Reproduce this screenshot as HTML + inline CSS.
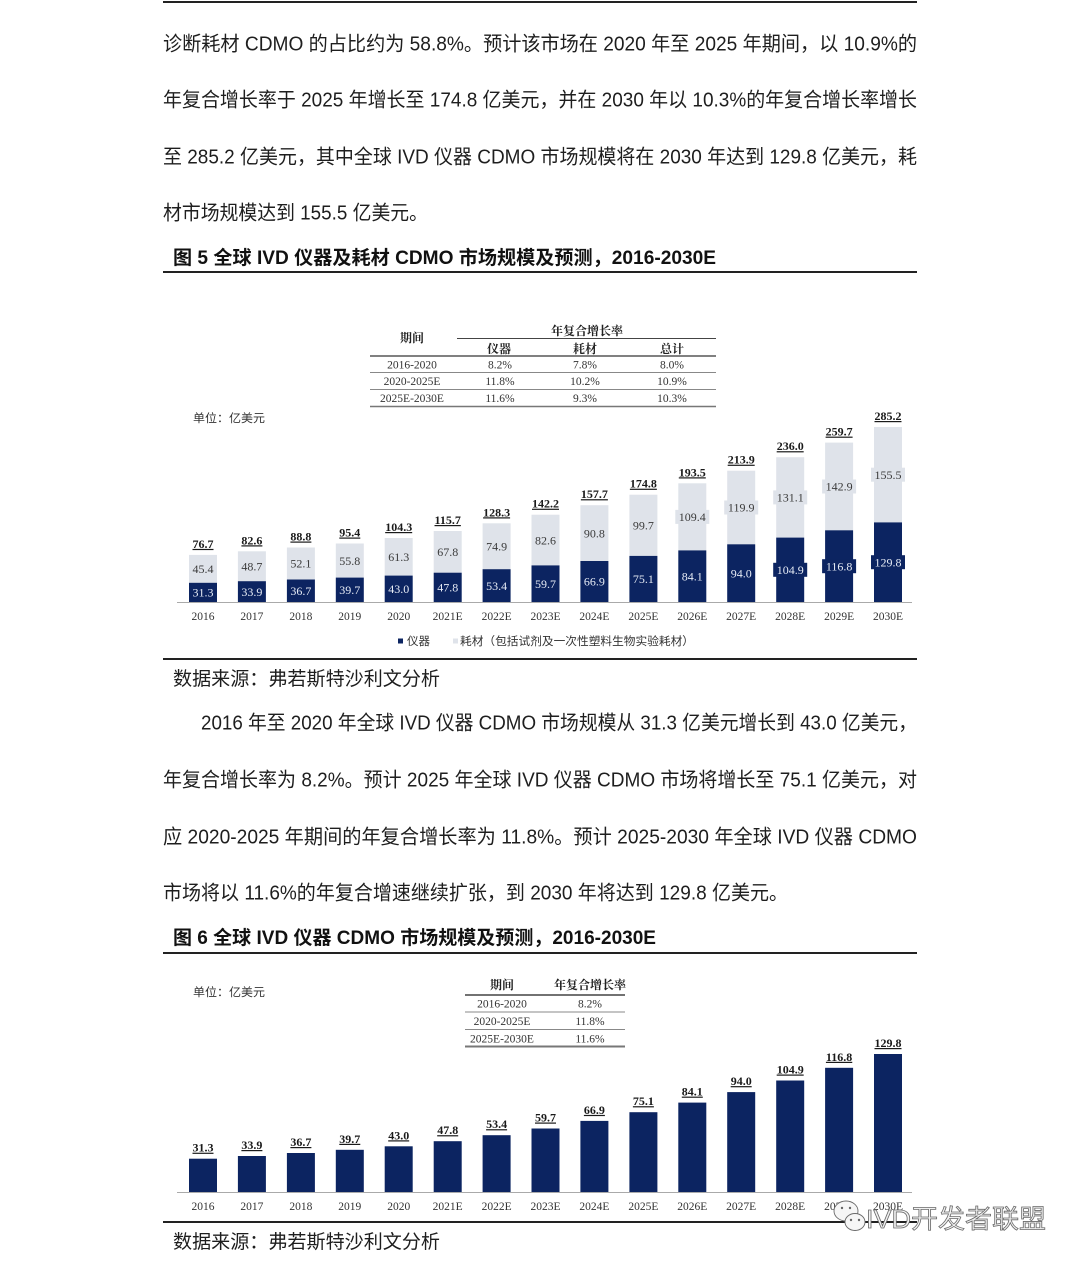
<!DOCTYPE html>
<html>
<head>
<meta charset="utf-8">
<style>
html,body{margin:0;padding:0;background:#fff;}
svg{display:block;}
.b{font-family:"Liberation Sans","Noto Sans CJK SC",sans-serif;font-size:20px;fill:#1e1e1e;}
.t{font-family:"Liberation Sans","Noto Sans CJK SC",sans-serif;font-size:19px;font-weight:bold;fill:#111;}
.s{font-family:"Liberation Sans","Noto Sans CJK SC",sans-serif;font-size:19px;fill:#1e1e1e;}
.sm{font-family:"Liberation Sans","Noto Sans CJK SC",sans-serif;font-size:11.5px;fill:#333;}
.sr{font-family:"Liberation Serif","Noto Serif CJK SC",serif;font-size:11.5px;fill:#333;text-anchor:middle;}
.hd{font-family:"Liberation Serif","Noto Serif CJK SC",serif;font-size:12px;font-weight:bold;fill:#222;text-anchor:middle;}
.xl{font-family:"Liberation Serif","Noto Serif CJK SC",serif;font-size:11.5px;fill:#333;text-anchor:middle;}
.tot{font-family:"Liberation Serif","Noto Serif CJK SC",serif;font-size:12px;font-weight:bold;fill:#1a1a1a;text-anchor:middle;text-decoration:underline;}
.ll{font-family:"Liberation Serif","Noto Serif CJK SC",serif;font-size:12px;fill:#3a3a3a;text-anchor:middle;}
.dl{font-family:"Liberation Serif","Noto Serif CJK SC",serif;font-size:12px;fill:#e6ebf5;text-anchor:middle;}
.wm{font-family:"Liberation Sans","Noto Sans CJK SC",sans-serif;font-size:26px;fill:#f2f2f2;stroke:#6a6a6a;stroke-width:0.8;}
</style>
</head>
<body>
<svg width="1080" height="1268" viewBox="0 0 1080 1268" xmlns="http://www.w3.org/2000/svg">
<rect x="0" y="0" width="1080" height="1268" fill="#fff"/>
<rect x="163" y="1" width="754" height="2" fill="#222"/>

<!-- paragraph 1 -->
<text class="b" x="163" y="50.5" textLength="754" lengthAdjust="spacingAndGlyphs">诊断耗材 CDMO 的占比约为 58.8%。预计该市场在 2020 年至 2025 年期间，以 10.9%的</text>
<text class="b" x="163" y="106.5" textLength="754" lengthAdjust="spacingAndGlyphs">年复合增长率于 2025 年增长至 174.8 亿美元，并在 2030 年以 10.3%的年复合增长率增长</text>
<text class="b" x="163" y="163.5" textLength="754" lengthAdjust="spacingAndGlyphs">至 285.2 亿美元，其中全球 IVD 仪器 CDMO 市场规模将在 2030 年达到 129.8 亿美元，耗</text>
<text class="b" x="163" y="219.5" textLength="265" lengthAdjust="spacingAndGlyphs">材市场规模达到 155.5 亿美元。</text>

<!-- title 1 -->
<text class="t" x="173" y="264" textLength="543" lengthAdjust="spacingAndGlyphs">图 5 全球 IVD 仪器及耗材 CDMO 市场规模及预测，2016-2030E</text>
<rect x="163" y="271" width="754" height="2" fill="#222"/>

<!-- table 1 -->
<text class="hd" x="587" y="335">年复合增长率</text>
<text class="hd" x="412" y="342">期间</text>
<line x1="457" y1="338.5" x2="716" y2="338.5" stroke="#444" stroke-width="1"/>
<text class="hd" x="499" y="353">仪器</text>
<text class="hd" x="585" y="353">耗材</text>
<text class="hd" x="672" y="353">总计</text>
<line x1="370" y1="356" x2="716" y2="356" stroke="#808080" stroke-width="2"/>
<text class="sr" x="412" y="368.5">2016-2020</text>
<text class="sr" x="500" y="368.5">8.2%</text>
<text class="sr" x="585" y="368.5">7.8%</text>
<text class="sr" x="672" y="368.5">8.0%</text>
<line x1="370" y1="372.5" x2="716" y2="372.5" stroke="#888" stroke-width="1"/>
<text class="sr" x="412" y="385">2020-2025E</text>
<text class="sr" x="500" y="385">11.8%</text>
<text class="sr" x="585" y="385">10.2%</text>
<text class="sr" x="672" y="385">10.9%</text>
<line x1="370" y1="389.5" x2="716" y2="389.5" stroke="#888" stroke-width="1"/>
<text class="sr" x="412" y="402">2025E-2030E</text>
<text class="sr" x="500" y="402">11.6%</text>
<text class="sr" x="585" y="402">9.3%</text>
<text class="sr" x="672" y="402">10.3%</text>
<line x1="370" y1="406.5" x2="716" y2="406.5" stroke="#777" stroke-width="1.5"/>

<text class="sm" x="193" y="422" textLength="72" lengthAdjust="spacingAndGlyphs">单位：亿美元</text>

<!-- chart 1 bars -->
<g fill="#dfe3ea">
<rect x="189.0" y="554.9" width="28" height="27.9"/>
<rect x="237.9" y="551.3" width="28" height="29.9"/>
<rect x="286.9" y="547.5" width="28" height="32.0"/>
<rect x="335.8" y="543.5" width="28" height="34.1"/>
<rect x="384.7" y="538.0" width="28" height="37.6"/>
<rect x="433.7" y="531.0" width="28" height="41.7"/>
<rect x="482.6" y="523.3" width="28" height="45.9"/>
<rect x="531.5" y="514.7" width="28" height="50.7"/>
<rect x="580.4" y="505.2" width="28" height="55.8"/>
<rect x="629.4" y="494.7" width="28" height="61.2"/>
<rect x="678.3" y="483.3" width="28" height="67.1"/>
<rect x="727.2" y="470.7" width="28" height="73.6"/>
<rect x="776.2" y="457.2" width="28" height="80.4"/>
<rect x="825.1" y="442.6" width="28" height="87.7"/>
<rect x="874.0" y="427.0" width="28" height="95.4"/>
<rect x="675.3" y="509.9" width="34" height="14"/>
<rect x="724.2" y="500.5" width="34" height="14"/>
<rect x="773.2" y="490.4" width="34" height="14"/>
<rect x="822.1" y="479.5" width="34" height="14"/>
<rect x="871.0" y="467.7" width="34" height="14"/>
</g>
<g fill="#0c2461">
<rect x="189.0" y="582.8" width="28" height="19.2"/>
<rect x="237.9" y="581.2" width="28" height="20.8"/>
<rect x="286.9" y="579.5" width="28" height="22.5"/>
<rect x="335.8" y="577.6" width="28" height="24.4"/>
<rect x="384.7" y="575.6" width="28" height="26.4"/>
<rect x="433.7" y="572.7" width="28" height="29.3"/>
<rect x="482.6" y="569.2" width="28" height="32.8"/>
<rect x="531.5" y="565.4" width="28" height="36.6"/>
<rect x="580.4" y="561.0" width="28" height="41.0"/>
<rect x="629.4" y="555.9" width="28" height="46.1"/>
<rect x="678.3" y="550.4" width="28" height="51.6"/>
<rect x="727.2" y="544.3" width="28" height="57.7"/>
<rect x="776.2" y="537.6" width="28" height="64.4"/>
<rect x="825.1" y="530.3" width="28" height="71.7"/>
<rect x="874.0" y="522.4" width="28" height="79.6"/>
<rect x="773.2" y="562.8" width="34" height="14"/>
<rect x="822.1" y="559.2" width="34" height="14"/>
<rect x="871.0" y="555.2" width="34" height="14"/>
</g>
<line x1="177" y1="602.5" x2="912" y2="602.5" stroke="#aaa" stroke-width="1"/>

<!-- light labels -->
<text class="ll" x="203.0" y="573.1">45.4</text>
<text class="ll" x="251.9" y="570.5">48.7</text>
<text class="ll" x="300.9" y="567.7">52.1</text>
<text class="ll" x="349.8" y="564.8">55.8</text>
<text class="ll" x="398.7" y="561.0">61.3</text>
<text class="ll" x="447.7" y="556.1">67.8</text>
<text class="ll" x="496.6" y="550.5">74.9</text>
<text class="ll" x="545.5" y="544.3">82.6</text>
<text class="ll" x="594.4" y="537.3">90.8</text>
<text class="ll" x="643.4" y="529.5">99.7</text>
<text class="ll" x="692.3" y="521.1">109.4</text>
<text class="ll" x="741.2" y="511.7">119.9</text>
<text class="ll" x="790.2" y="501.6">131.1</text>
<text class="ll" x="839.1" y="490.7">142.9</text>
<text class="ll" x="888.0" y="478.9">155.5</text>
<!-- dark labels -->
<text class="dl" x="203.0" y="596.6">31.3</text>
<text class="dl" x="251.9" y="595.8">33.9</text>
<text class="dl" x="300.9" y="595.0">36.7</text>
<text class="dl" x="349.8" y="594.0">39.7</text>
<text class="dl" x="398.7" y="593.0">43.0</text>
<text class="dl" x="447.7" y="591.6">47.8</text>
<text class="dl" x="496.6" y="589.8">53.4</text>
<text class="dl" x="545.5" y="587.9">59.7</text>
<text class="dl" x="594.4" y="585.7">66.9</text>
<text class="dl" x="643.4" y="583.2">75.1</text>
<text class="dl" x="692.3" y="580.4">84.1</text>
<text class="dl" x="741.2" y="577.4">94.0</text>
<text class="dl" x="790.2" y="574.0">104.9</text>
<text class="dl" x="839.1" y="570.4">116.8</text>
<text class="dl" x="888.0" y="566.4">129.8</text>
<!-- totals -->
<text class="tot" x="203.0" y="547.9">76.7</text>
<text class="tot" x="251.9" y="544.3">82.6</text>
<text class="tot" x="300.9" y="540.5">88.8</text>
<text class="tot" x="349.8" y="536.5">95.4</text>
<text class="tot" x="398.7" y="531.0">104.3</text>
<text class="tot" x="447.7" y="524.0">115.7</text>
<text class="tot" x="496.6" y="516.3">128.3</text>
<text class="tot" x="545.5" y="507.7">142.2</text>
<text class="tot" x="594.4" y="498.2">157.7</text>
<text class="tot" x="643.4" y="487.7">174.8</text>
<text class="tot" x="692.3" y="476.3">193.5</text>
<text class="tot" x="741.2" y="463.7">213.9</text>
<text class="tot" x="790.2" y="450.2">236.0</text>
<text class="tot" x="839.1" y="435.6">259.7</text>
<text class="tot" x="888.0" y="420.0">285.2</text>
<!-- x labels -->
<text class="xl" x="203.0" y="620">2016</text>
<text class="xl" x="251.9" y="620">2017</text>
<text class="xl" x="300.9" y="620">2018</text>
<text class="xl" x="349.8" y="620">2019</text>
<text class="xl" x="398.7" y="620">2020</text>
<text class="xl" x="447.7" y="620">2021E</text>
<text class="xl" x="496.6" y="620">2022E</text>
<text class="xl" x="545.5" y="620">2023E</text>
<text class="xl" x="594.4" y="620">2024E</text>
<text class="xl" x="643.4" y="620">2025E</text>
<text class="xl" x="692.3" y="620">2026E</text>
<text class="xl" x="741.2" y="620">2027E</text>
<text class="xl" x="790.2" y="620">2028E</text>
<text class="xl" x="839.1" y="620">2029E</text>
<text class="xl" x="888.0" y="620">2030E</text>

<!-- legend -->
<rect x="398" y="638.5" width="5" height="5" fill="#0c2461"/>
<text class="sm" x="407" y="645" textLength="23" lengthAdjust="spacingAndGlyphs">仪器</text>
<rect x="453" y="638.5" width="5" height="5" fill="#dfe3ea"/>
<text class="sm" x="460" y="645" textLength="234" lengthAdjust="spacingAndGlyphs">耗材（包括试剂及一次性塑料生物实验耗材）</text>

<rect x="163" y="658" width="754" height="2" fill="#222"/>
<text class="s" x="173" y="685" textLength="267" lengthAdjust="spacingAndGlyphs">数据来源：弗若斯特沙利文分析</text>

<!-- paragraph 2 -->
<text class="b" x="201" y="729.5" textLength="716" lengthAdjust="spacingAndGlyphs">2016 年至 2020 年全球 IVD 仪器 CDMO 市场规模从 31.3 亿美元增长到 43.0 亿美元，</text>
<text class="b" x="163" y="786.5" textLength="754" lengthAdjust="spacingAndGlyphs">年复合增长率为 8.2%。预计 2025 年全球 IVD 仪器 CDMO 市场将增长至 75.1 亿美元，对</text>
<text class="b" x="163" y="843.5" textLength="754" lengthAdjust="spacingAndGlyphs">应 2020-2025 年期间的年复合增长率为 11.8%。预计 2025-2030 年全球 IVD 仪器 CDMO</text>
<text class="b" x="163" y="899.5" textLength="625" lengthAdjust="spacingAndGlyphs">市场将以 11.6%的年复合增速继续扩张，到 2030 年将达到 129.8 亿美元。</text>

<!-- title 2 -->
<text class="t" x="173" y="944" textLength="483" lengthAdjust="spacingAndGlyphs">图 6 全球 IVD 仪器 CDMO 市场规模及预测，2016-2030E</text>
<rect x="163" y="952" width="754" height="2" fill="#222"/>

<text class="sm" x="193" y="996" textLength="72" lengthAdjust="spacingAndGlyphs">单位：亿美元</text>

<!-- table 2 -->
<text class="hd" x="502" y="989">期间</text>
<text class="hd" x="590" y="989">年复合增长率</text>
<line x1="465" y1="995" x2="625" y2="995" stroke="#444" stroke-width="1.5"/>
<text class="sr" x="502" y="1007.5">2016-2020</text>
<text class="sr" x="590" y="1007.5">8.2%</text>
<line x1="465" y1="1012" x2="625" y2="1012" stroke="#888" stroke-width="1"/>
<text class="sr" x="502" y="1025">2020-2025E</text>
<text class="sr" x="590" y="1025">11.8%</text>
<line x1="465" y1="1029.5" x2="625" y2="1029.5" stroke="#888" stroke-width="1"/>
<text class="sr" x="502" y="1042.5">2025E-2030E</text>
<text class="sr" x="590" y="1042.5">11.6%</text>
<line x1="465" y1="1046.5" x2="625" y2="1046.5" stroke="#777" stroke-width="2"/>

<!-- chart 2 bars -->
<g fill="#0c2461">
<rect x="189.0" y="1158.7" width="28" height="33.3"/>
<rect x="237.9" y="1156.0" width="28" height="36.0"/>
<rect x="286.9" y="1153.0" width="28" height="39.0"/>
<rect x="335.8" y="1149.8" width="28" height="42.2"/>
<rect x="384.7" y="1146.3" width="28" height="45.7"/>
<rect x="433.7" y="1141.2" width="28" height="50.8"/>
<rect x="482.6" y="1135.2" width="28" height="56.8"/>
<rect x="531.5" y="1128.5" width="28" height="63.5"/>
<rect x="580.4" y="1120.9" width="28" height="71.1"/>
<rect x="629.4" y="1112.2" width="28" height="79.8"/>
<rect x="678.3" y="1102.6" width="28" height="89.4"/>
<rect x="727.2" y="1092.1" width="28" height="99.9"/>
<rect x="776.2" y="1080.5" width="28" height="111.5"/>
<rect x="825.1" y="1067.8" width="28" height="124.2"/>
<rect x="874.0" y="1054.0" width="28" height="138.0"/>
</g>
<line x1="177" y1="1192.5" x2="912" y2="1192.5" stroke="#aaa" stroke-width="1"/>
<text class="tot" x="203.0" y="1151.7">31.3</text>
<text class="tot" x="251.9" y="1149.0">33.9</text>
<text class="tot" x="300.9" y="1146.0">36.7</text>
<text class="tot" x="349.8" y="1142.8">39.7</text>
<text class="tot" x="398.7" y="1139.3">43.0</text>
<text class="tot" x="447.7" y="1134.2">47.8</text>
<text class="tot" x="496.6" y="1128.2">53.4</text>
<text class="tot" x="545.5" y="1121.5">59.7</text>
<text class="tot" x="594.4" y="1113.9">66.9</text>
<text class="tot" x="643.4" y="1105.2">75.1</text>
<text class="tot" x="692.3" y="1095.6">84.1</text>
<text class="tot" x="741.2" y="1085.1">94.0</text>
<text class="tot" x="790.2" y="1073.5">104.9</text>
<text class="tot" x="839.1" y="1060.8">116.8</text>
<text class="tot" x="888.0" y="1047.0">129.8</text>
<text class="xl" x="203.0" y="1210">2016</text>
<text class="xl" x="251.9" y="1210">2017</text>
<text class="xl" x="300.9" y="1210">2018</text>
<text class="xl" x="349.8" y="1210">2019</text>
<text class="xl" x="398.7" y="1210">2020</text>
<text class="xl" x="447.7" y="1210">2021E</text>
<text class="xl" x="496.6" y="1210">2022E</text>
<text class="xl" x="545.5" y="1210">2023E</text>
<text class="xl" x="594.4" y="1210">2024E</text>
<text class="xl" x="643.4" y="1210">2025E</text>
<text class="xl" x="692.3" y="1210">2026E</text>
<text class="xl" x="741.2" y="1210">2027E</text>
<text class="xl" x="790.2" y="1210">2028E</text>
<text class="xl" x="839.1" y="1210">2029E</text>
<text class="xl" x="888.0" y="1210">2030E</text>

<rect x="163" y="1221" width="754" height="2" fill="#222"/>
<text class="s" x="173" y="1248" textLength="267" lengthAdjust="spacingAndGlyphs">数据来源：弗若斯特沙利文分析</text>

<!-- watermark -->
<g fill="#f6f6f6" stroke="#6a6a6a" stroke-width="0.9">
<ellipse cx="846" cy="1211" rx="12" ry="10"/>
<ellipse cx="855" cy="1222" rx="10" ry="8.5"/>
</g>
<circle cx="851" cy="1220" r="1.2" fill="#666"/>
<circle cx="859" cy="1220" r="1.2" fill="#666"/>
<circle cx="842" cy="1208" r="1.2" fill="#666"/>
<circle cx="850" cy="1208" r="1.2" fill="#666"/>
<text class="wm" x="866" y="1228" textLength="180" lengthAdjust="spacingAndGlyphs">IVD开发者联盟</text>
</svg>
</body>
</html>
